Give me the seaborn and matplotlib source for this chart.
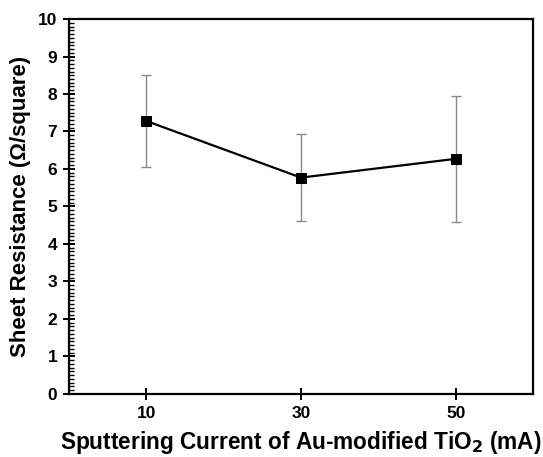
import numpy as np
import pandas as pd
import matplotlib
matplotlib.use("Agg")
import matplotlib.pyplot as plt
import seaborn as sns
from matplotlib.ticker import MultipleLocator, FixedLocator

current = [10, 30, 50]
resistance = [7.28, 5.77, 6.27]
errors = [1.22, 1.15, 1.68]
x_ticks = [10, 30, 50]

sns.set_style("ticks")
plt.rcParams['font.family'] = ['Liberation Sans', 'DejaVu Sans']
plt.rcParams['font.weight'] = 'bold'
plt.rcParams['mathtext.default'] = 'bf'
plt.rcParams['text.color'] = 'black'
plt.rcParams['axes.labelcolor'] = 'black'
plt.rcParams['xtick.color'] = 'black'
plt.rcParams['ytick.color'] = 'black'

df = pd.DataFrame({"current": current, "resistance": resistance, "err": errors})

fig = plt.figure(figsize=(5.43, 4.57), dpi=100)
ax = fig.add_axes([0.127, 0.138, 0.8546, 0.8204])

ax.errorbar(df["current"], df["resistance"], yerr=df["err"], fmt='none',
            ecolor='#8a8a8a', elinewidth=1.0, capsize=3.5, capthick=1.0, zorder=2)
sns.lineplot(data=df, x="current", y="resistance", ax=ax, color='black',
             linewidth=1.6, marker='s', markersize=7, markeredgecolor='black',
             markerfacecolor='black', zorder=3)

ax.set_xlim(0, 60)
ax.set_ylim(0, 10)
ax.xaxis.set_major_locator(FixedLocator(x_ticks))
ax.yaxis.set_major_locator(MultipleLocator(1))
ax.yaxis.set_minor_locator(MultipleLocator(0.1))

for s in ax.spines.values():
    s.set_linewidth(1.6)
    s.set_color('black')

ax.tick_params(axis='both', which='major', direction='inout', length=9, width=1.4,
               labelsize=12.5, colors='black', labelcolor='black', pad=4)
ax.tick_params(axis='y', which='minor', direction='in', length=3.5, width=1.0, colors='black')
ax.tick_params(axis='x', which='minor', length=0)

for lbl in ax.get_xticklabels() + ax.get_yticklabels():
    lbl.set_fontweight('bold')
    lbl.set_color('black')
    lbl.set_fontsize(12.5)

ax.set_xlabel("Sputtering Current of Au-modified TiO$_2$ (mA)", fontsize=16.3,
              fontweight='bold', labelpad=6, color='black')
ax.set_ylabel("Sheet Resistance (Ω/square)", fontsize=16, fontweight='bold',
              labelpad=5, color='black')

fig.savefig("out.png", dpi=100)
